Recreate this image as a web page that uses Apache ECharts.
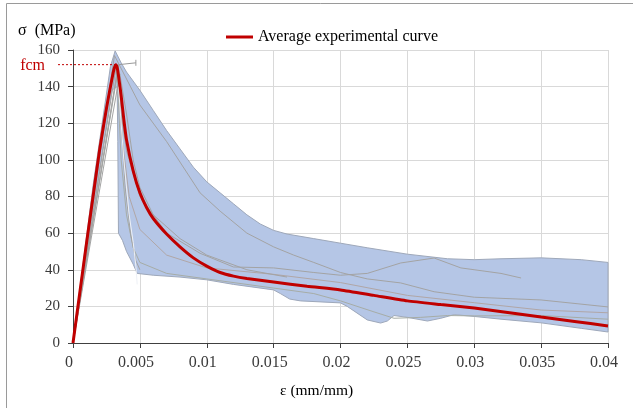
<!DOCTYPE html>
<html>
<head>
<meta charset="utf-8">
<script src="https://cdn.jsdelivr.net/npm/echarts@6/dist/echarts.min.js"></script>
<style>
  html, body { margin: 0; padding: 0; background: #fff; }
  #chart { width: 633px; height: 408px; }
</style>
</head>
<body>
<div id="chart"></div>
<script>
// Average stress-strain curve (strain in mm/mm, stress in MPa)
const avgStrain = [0, 0.0005, 0.001, 0.0015, 0.002, 0.0025, 0.0028, 0.003, 0.0031, 0.0032, 0.0033, 0.0034, 0.0036, 0.0038, 0.004, 0.0045, 0.005, 0.0055, 0.006, 0.007, 0.008, 0.009, 0.01, 0.011, 0.012, 0.013, 0.015, 0.0175, 0.02, 0.0225, 0.025, 0.0275, 0.03, 0.0325, 0.035, 0.0375, 0.04];
const avgStress = [0, 27, 54, 80, 106, 128, 140, 147.5, 150.5, 152, 150.5, 146, 135, 122, 111, 94, 82, 74, 68, 59.5, 52.5, 46.5, 42, 38.5, 36.5, 35.2, 33.3, 31, 29, 26, 23, 21, 19.1, 16.7, 14.2, 11.8, 9.3];

// Envelope of all specimen curves: upper side left to right, lower side right to left
const bandUpperStrain = [0, 0.0015, 0.0028, 0.00315, 0.0036, 0.004, 0.005, 0.006, 0.007, 0.008, 0.009, 0.01, 0.011, 0.012, 0.013, 0.014, 0.015, 0.016, 0.018, 0.02, 0.022, 0.025, 0.028, 0.03, 0.032, 0.035, 0.038, 0.04];
const bandUpperStress = [0, 86, 151, 159.5, 153, 148, 138, 127, 116, 106, 96, 88, 82, 76, 70, 65, 61.5, 59.5, 57, 54.5, 52, 48.5, 46, 45.5, 46, 46.5, 45.5, 44];
const bandLowerStrain = [0.04, 0.038, 0.035, 0.032, 0.03, 0.0285, 0.0275, 0.0265, 0.025, 0.024, 0.0235, 0.023, 0.022, 0.0205, 0.02, 0.017, 0.0162, 0.0155, 0.015, 0.012, 0.01, 0.008, 0.006, 0.0048, 0.0045, 0.004, 0.0037, 0.0034, 0.00335, 0.0033, 0.0029, 0];
const bandLowerStress = [6, 8, 11, 13, 14.5, 15.5, 13.5, 12, 14, 15, 12, 10.9, 12.6, 20, 21.9, 23, 24, 27, 29, 32, 34.5, 36, 37, 38, 43, 50, 56, 60, 110, 140, 138, 0];

// Individual specimen curves [strain, stress]
const specimenA = [[0,0],[0.0031,157],[0.005,130],[0.007,110],[0.0095,82],[0.011,72],[0.013,60],[0.015,52.5],[0.0165,48],[0.018,44],[0.02,38.5],[0.022,35],[0.0245,32.8],[0.027,28],[0.03,25],[0.035,23.5],[0.04,19.7]];
const specimenB = [[0,0],[0.0032,150],[0.0036,125],[0.004,105],[0.005,80],[0.007,60],[0.0095,49],[0.012,41.5],[0.015,41],[0.018,38.5],[0.02,37],[0.022,38],[0.0245,43.7],[0.027,46.4],[0.029,41],[0.032,38],[0.0335,35.5]];
const specimenC = [[0,0],[0.0033,148],[0.0037,110],[0.0042,80],[0.005,62],[0.007,48],[0.01,41],[0.015,37.5],[0.02,33],[0.025,26],[0.03,22],[0.035,18],[0.04,16.5]];
const specimenD = [[0,0],[0.0033,146],[0.0036,100],[0.004,70],[0.0045,52],[0.005,44],[0.007,38],[0.01,35],[0.015,30],[0.018,27],[0.02,23],[0.0225,17],[0.024,13.5],[0.026,14],[0.028,15],[0.03,14.8],[0.035,15],[0.04,13]];
const specimenE = [[0,0],[0.0034,152],[0.0036,120],[0.0039,85],[0.0043,60],[0.0047,45],[0.005,40]];
const specimenF = [[0,0],[0.0035,147],[0.004,125],[0.0045,100],[0.005,85],[0.006,70],[0.008,57],[0.01,48],[0.013,40],[0.016,36]];
const specimenG = [[0.0034,140],[0.0038,100],[0.0042,70],[0.0045,55],[0.0047,42],[0.0048,32]];

// Axis ticks
const xTickLabels = ['0', '0.005', '0.01', '0.015', '0.02', '0.025', '0.03', '0.035', '0.04'];
const yTickLabels = ['0', '20', '40', '60', '80', '100', '120', '140', '160'];

const fcm = 152;
const serif = "'Liberation Serif', 'Times New Roman', serif";
const red = '#c00000';

const avgData = avgStrain.map((s, i) => [s, avgStress[i]]);
const bandPolygon = bandUpperStrain.map((s, i) => [s, bandUpperStress[i]])
  .concat(bandLowerStrain.map((s, i) => [s, bandLowerStress[i]]));

function grayLine(data, color) {
  return {
    type: 'line', data: data, showSymbol: false, silent: true, z: 3,
    lineStyle: { color: color || '#a3a3a3', width: 1 }
  };
}

const chart = echarts.init(document.getElementById('chart'), null, { renderer: 'canvas' });

chart.setOption({
  animation: false,
  backgroundColor: '#fff',
  grid: { left: 73, right: 25, top: 50, bottom: 65 },
  legend: {
    data: [{ name: 'Average experimental curve', icon: 'rect' }],
    left: 221, top: 24, itemWidth: 27, itemHeight: 3,
    textStyle: { fontFamily: serif, fontSize: 16, color: '#000' }
  },
  xAxis: {
    type: 'value', min: 0, max: 0.04, interval: 0.005,
    axisLine: { show: true, lineStyle: { color: '#404040', width: 1 } },
    axisTick: { show: true, length: 5, lineStyle: { color: '#404040' } },
    splitLine: { show: true, lineStyle: { color: '#d9d9d9', width: 1 } },
    axisLabel: {
      fontFamily: serif, fontSize: 16, color: '#3a3a3a', margin: 12,
      padding: [0, 8, 0, 0],
      formatter: (v) => xTickLabels[Math.round(v / 0.005)]
    }
  },
  yAxis: {
    type: 'value', min: 0, max: 160, interval: 20,
    axisLine: { show: true, lineStyle: { color: '#404040', width: 1 } },
    axisTick: { show: true, length: 5, lineStyle: { color: '#404040' } },
    splitLine: { show: true, lineStyle: { color: '#d9d9d9', width: 1 } },
    axisLabel: {
      fontFamily: serif, fontSize: 15, color: '#3a3a3a', margin: 13,
      formatter: (v) => yTickLabels[Math.round(v / 20)]
    }
  },
  series: [
    {
      type: 'custom', silent: true, z: 2,
      data: [[0, 0]],
      renderItem: function (params, api) {
        const pts = bandPolygon.map(p => api.coord(p));
        return {
          type: 'polygon',
          shape: { points: pts },
          style: { fill: '#b5c6e6', stroke: '#9ea8ba', lineWidth: 1 }
        };
      }
    },
    grayLine(specimenA),
    grayLine(specimenB),
    grayLine(specimenC, '#b0a6a6'),
    grayLine(specimenD, '#a6aca6'),
    grayLine(specimenE),
    grayLine(specimenF),
    grayLine(specimenG, '#eef1f6'),
    {
      name: 'Average experimental curve',
      type: 'line', data: avgData, showSymbol: false, z: 5,
      smooth: 0.2,
      color: red,
      lineStyle: { color: red, width: 3 }
    }
  ]
});

// Frame, axis titles and the fcm annotation (dotted level from the axis to the peak)
const peakIdx = avgStress.indexOf(Math.max.apply(null, avgStress));
const pAxis = chart.convertToPixel({ gridIndex: 0 }, [0, fcm]);
const pPeak = chart.convertToPixel({ gridIndex: 0 }, [avgStrain[peakIdx], fcm]);
const pLead = chart.convertToPixel({ gridIndex: 0 }, [0.0047, fcm + 1]);
chart.setOption({
  graphic: [
    {
      id: 'frame', type: 'rect', silent: true, z: 0,
      shape: { x: 6.5, y: 3.5, width: 660, height: 440 },
      style: { fill: 'none', stroke: '#9a9a9a', lineWidth: 1 }
    },
    {
      id: 'yTitle', type: 'text', left: 18, top: 23, silent: true,
      style: { text: 'σ  (MPa)', fontFamily: serif, fontSize: 16, fill: '#000' }
    },
    {
      id: 'xTitle', type: 'text', left: 280, top: 383, silent: true,
      style: { text: 'ε (mm/mm)', fontFamily: serif, fontSize: 15.5, fill: '#000' }
    },
    {
      id: 'fcmLevel', type: 'line', silent: true, z: 10,
      shape: { x1: pAxis[0] - 15, y1: pAxis[1], x2: pPeak[0], y2: pPeak[1] },
      style: { stroke: red, lineWidth: 1, lineDash: [2, 2] }
    },
    {
      id: 'fcmLeader', type: 'line', silent: true, z: 10,
      shape: { x1: pPeak[0] + 3, y1: pPeak[1], x2: pLead[0], y2: pLead[1] },
      style: { stroke: '#9a9a9a', lineWidth: 1 }
    },
    {
      id: 'fcmLeaderEnd', type: 'line', silent: true, z: 10,
      shape: { x1: pLead[0], y1: pLead[1] - 3, x2: pLead[0], y2: pLead[1] + 3 },
      style: { stroke: '#9a9a9a', lineWidth: 1 }
    },
    {
      id: 'fcmText', type: 'text', silent: true, z: 10,
      x: pAxis[0] - 28, y: pAxis[1] + 1,
      style: { text: 'fcm', fontFamily: serif, fontSize: 16, fill: red, align: 'right', verticalAlign: 'middle' }
    }
  ]
});
</script>
</body>
</html>
